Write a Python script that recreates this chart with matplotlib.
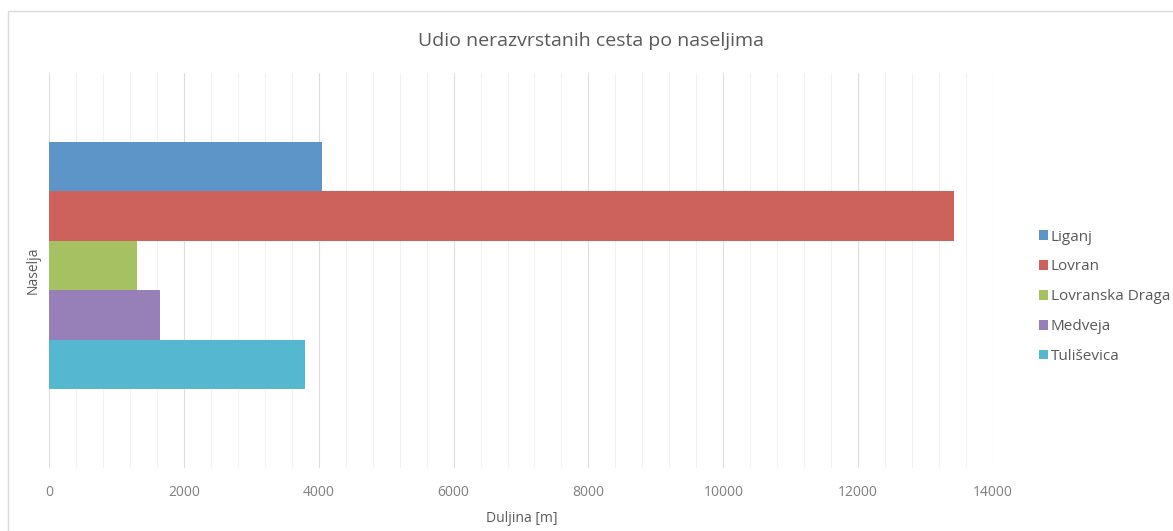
import matplotlib.pyplot as plt
from matplotlib.patches import Rectangle
from matplotlib.ticker import MultipleLocator

# data
naselja = ['Liganj', 'Lovran', 'Lovranska Draga', 'Medveja', 'Tuliševica']
duljine = [4050, 13420, 1300, 1650, 3790]
boje = ['#5E95C9', '#CD625C', '#A6C161', '#9680B7', '#55B7D0']

plt.rcParams['font.family'] = ['Open Sans', 'DejaVu Sans']

W, H = 1173, 531
fig = plt.figure(figsize=(W / 100, H / 100), dpi=100)

# chart border like the Excel chart area
fig.patches.append(Rectangle((8 / W, -0.05), 1.2, (H - 11) / H + 0.05,
                             transform=fig.transFigure, fill=False,
                             edgecolor='#D9D9D9', linewidth=1))

ax = fig.add_axes([49 / W, (H - 468) / H, (993 - 49) / W, (468 - 73) / H])

pozicije = [-i for i in range(len(naselja))]
for y, d, c, n in zip(pozicije, duljine, boje, naselja):
    ax.barh(y, d, height=1.0, color=c, label=n, zorder=3)

ax.set_xlim(0, 14000)
ax.set_ylim(-4.5 - 1.59, 0.5 + 1.39)
ax.xaxis.set_major_locator(MultipleLocator(2000))
ax.xaxis.set_minor_locator(MultipleLocator(400))
ax.grid(axis='x', which='major', color='#DCDCDC', linewidth=0.8, zorder=0)
ax.grid(axis='x', which='minor', color='#F2F2F2', linewidth=0.8, zorder=0)
ax.set_yticks([])
ax.tick_params(axis='x', which='both', length=0, colors='#7F7F7F',
               labelsize=10, pad=12)
for s in ax.spines.values():
    s.set_visible(False)

ax.set_ylabel('Naselja', color='#595959', fontsize=10, labelpad=6)
fig.text(522 / W, (H - 519) / H, 'Duljina [m]', ha='center', va='center',
         fontsize=10, color='#595959')

fig.text(591 / W, (H - 41) / H, 'Udio nerazvrstanih cesta po naseljima',
         ha='center', va='center', fontsize=14, color='#595959')

fig.legend(loc='upper left', bbox_to_anchor=(1031 / W, (H - 222) / H),
           frameon=False, fontsize=11, handlelength=0.6, handleheight=0.6,
           handletextpad=0.2, labelspacing=0.97, borderpad=0,
           labelcolor='#595959')

fig.savefig('out.png', dpi=100)
